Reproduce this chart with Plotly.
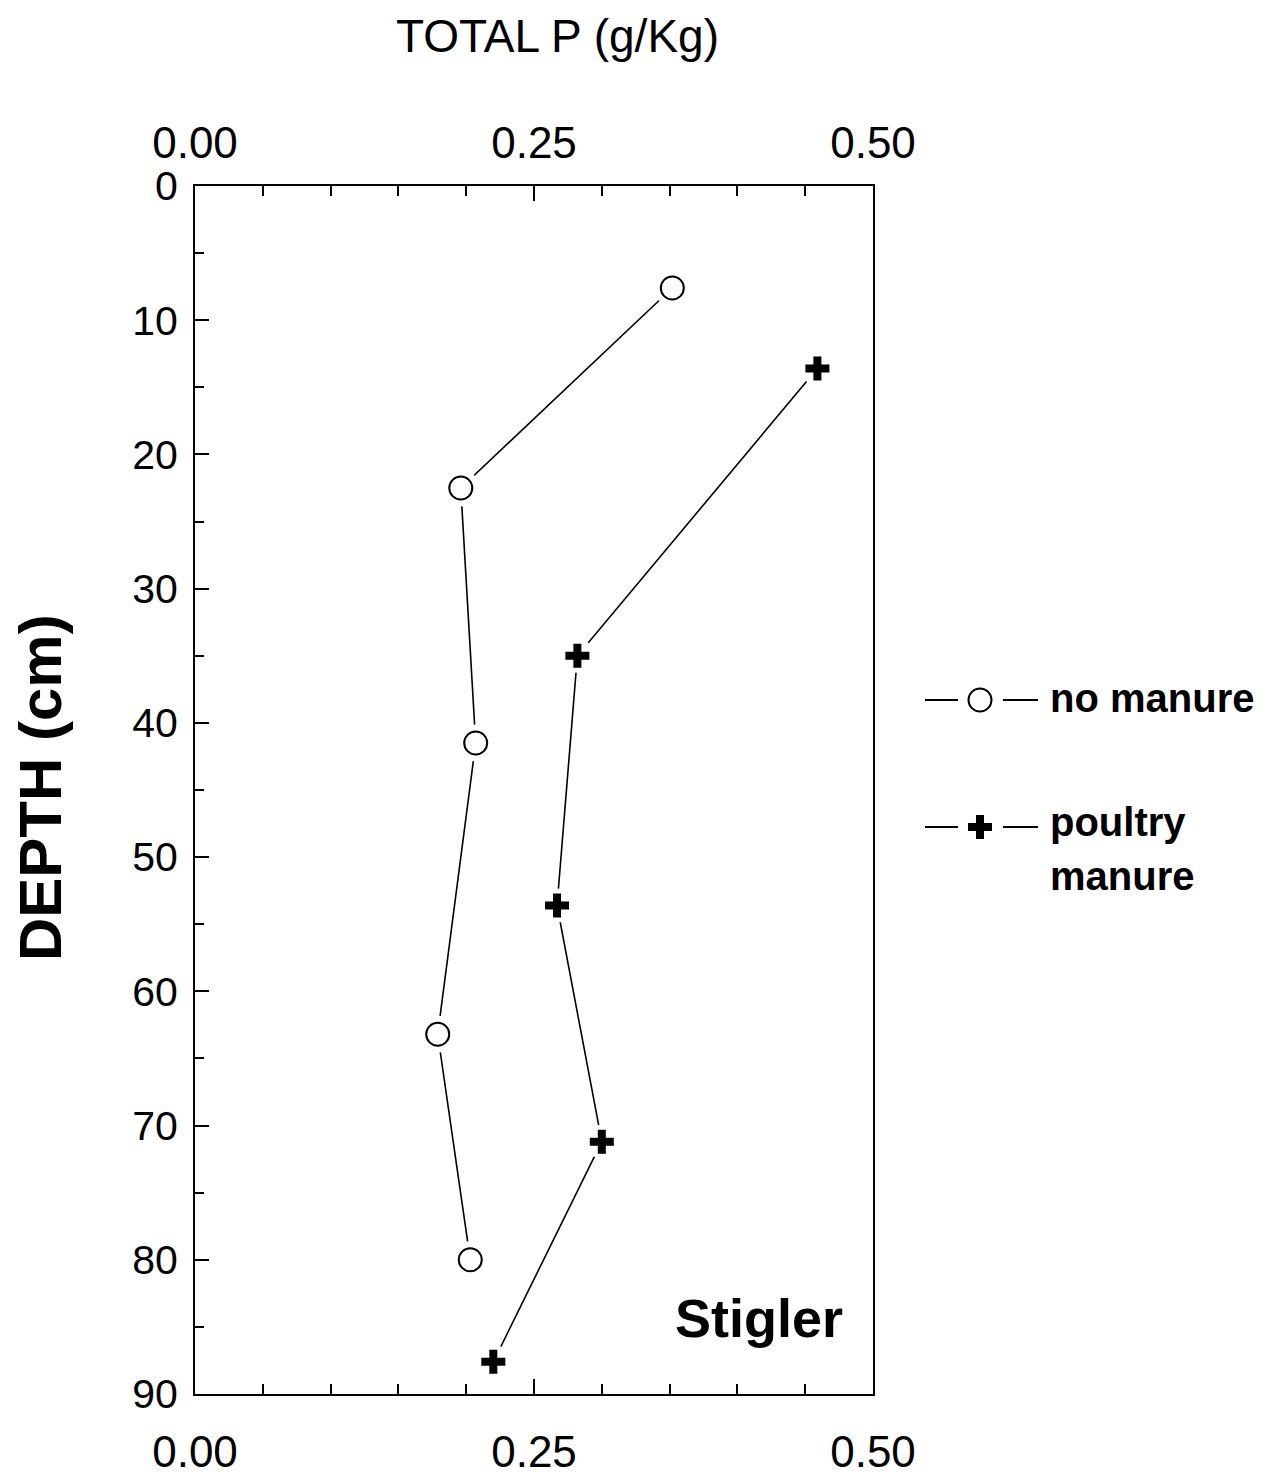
import plotly.graph_objects as go

# Total P profiles with depth at the Stigler site
no_manure_p = [0.352, 0.196, 0.207, 0.179, 0.203]
no_manure_depth = [7.6, 22.5, 41.5, 63.2, 80.0]
poultry_p = [0.459, 0.282, 0.267, 0.300, 0.220]
poultry_depth = [13.6, 35.0, 53.6, 71.2, 87.6]

x_ticks = [0.0, 0.25, 0.5]
x_tick_labels = ["0.00", "0.25", "0.50"]
y_ticks = [0, 10, 20, 30, 40, 50, 60, 70, 80, 90]

W, H = 1270, 1475
FONT = "Liberation Sans, Arial, Helvetica, sans-serif"
BLACK = "#000000"

fig = go.Figure()


def add_series(xs, ys, symbol, size, fill, line_w):
    # connecting line
    fig.add_trace(go.Scatter(x=xs, y=ys, mode="lines",
                             line=dict(color=BLACK, width=1.6),
                             showlegend=False, hoverinfo="skip"))
    # white halo so the line stops short of each symbol
    fig.add_trace(go.Scatter(x=xs, y=ys, mode="markers",
                             marker=dict(symbol="circle", size=size + 14,
                                         color="white", line=dict(width=0)),
                             showlegend=False, hoverinfo="skip"))
    fig.add_trace(go.Scatter(x=xs, y=ys, mode="markers",
                             marker=dict(symbol=symbol, size=size, color=fill,
                                         line=dict(color=BLACK, width=line_w)),
                             showlegend=False))


add_series(no_manure_p, no_manure_depth, "circle", 23, "white", 2)
add_series(poultry_p, poultry_depth, "cross", 20, BLACK, 0)

x_dom = [195 / W, 873 / W]
y_dom = [1 - 1394 / H, 1 - 186 / H]

common_x = dict(range=[0, 0.5], tickmode="array", tickvals=x_ticks,
                ticktext=x_tick_labels, ticks="inside", ticklen=15,
                tickwidth=2, tickcolor=BLACK, showgrid=False, zeroline=False,
                showline=True, linecolor=BLACK, linewidth=2,
                tickfont=dict(family=FONT, size=44, color=BLACK),
                minor=dict(dtick=0.05, tick0=0, ticks="inside", ticklen=10,
                           tickwidth=2, tickcolor=BLACK, showgrid=False))

fig.update_layout(
    width=W, height=H, autosize=False,
    margin=dict(l=0, r=0, t=0, b=0, pad=0),
    paper_bgcolor="white", plot_bgcolor="rgba(0,0,0,0)",
    showlegend=False,
    xaxis=dict(domain=x_dom, anchor="y", side="bottom", automargin=False,
               ticklabelstandoff=18, **common_x),
    xaxis2=dict(domain=x_dom, anchor="y", side="top", overlaying="x",
                matches="x", automargin=False, ticklabelstandoff=8,
                **common_x),
    yaxis=dict(domain=y_dom, anchor="x", range=[90, 0], tickmode="array",
               tickvals=y_ticks, ticks="inside", ticklen=14, tickwidth=2,
               tickcolor=BLACK, showgrid=False, zeroline=False,
               showline=True, mirror=True, linecolor=BLACK, linewidth=2,
               ticklabelstandoff=7, automargin=False,
               tickfont=dict(family=FONT, size=41, color=BLACK),
               minor=dict(dtick=5, tick0=0, ticks="inside", ticklen=9,
                          tickwidth=2, tickcolor=BLACK, showgrid=False)),
    # page-sized frame used for the legend glyphs
    xaxis3=dict(domain=[0, 1], range=[0, W], anchor="y3", visible=False,
                fixedrange=True, automargin=False),
    yaxis3=dict(domain=[0, 1], range=[H, 0], anchor="x3", visible=False,
                fixedrange=True, automargin=False),
)

# top axis needs a trace to be drawn
fig.add_trace(go.Scatter(x=[None], y=[None], xaxis="x2", yaxis="y",
                         showlegend=False, hoverinfo="skip"))

# legend glyphs: dash - symbol - dash
legend_rows = [(700, "circle", 23, "white", 2), (827, "cross", 20, BLACK, 0)]
for yy, sym, sz, fill, lw in legend_rows:
    for x0, x1 in [(925, 958), (1003, 1038)]:
        fig.add_trace(go.Scatter(x=[x0, x1], y=[yy, yy], mode="lines",
                                 xaxis="x3", yaxis="y3",
                                 line=dict(color=BLACK, width=2),
                                 showlegend=False, hoverinfo="skip"))
    fig.add_trace(go.Scatter(x=[980], y=[yy], mode="markers",
                             xaxis="x3", yaxis="y3",
                             marker=dict(symbol=sym, size=sz, color=fill,
                                         line=dict(color=BLACK, width=lw)),
                             showlegend=False, hoverinfo="skip"))


def page_text(text, x, y, size, bold=False, xanchor="left", angle=0):
    fig.add_annotation(text=f"<b>{text}</b>" if bold else text,
                       x=x / W, y=1 - y / H, xref="paper", yref="paper",
                       xanchor=xanchor, yanchor="middle", showarrow=False,
                       textangle=angle,
                       font=dict(family=FONT, size=size, color=BLACK))


page_text("TOTAL P (g/Kg)", 557, 36, 46, xanchor="center")
page_text("DEPTH (cm)", 40, 788, 60, bold=True, xanchor="center", angle=-90)
page_text("Stigler", 759, 1318, 54, bold=True, xanchor="center")
page_text("no manure", 1048, 698, 40, bold=True)
page_text("poultry", 1048, 822, 40, bold=True)
page_text("manure", 1048, 876, 40, bold=True)

fig.write_html("out.html")
